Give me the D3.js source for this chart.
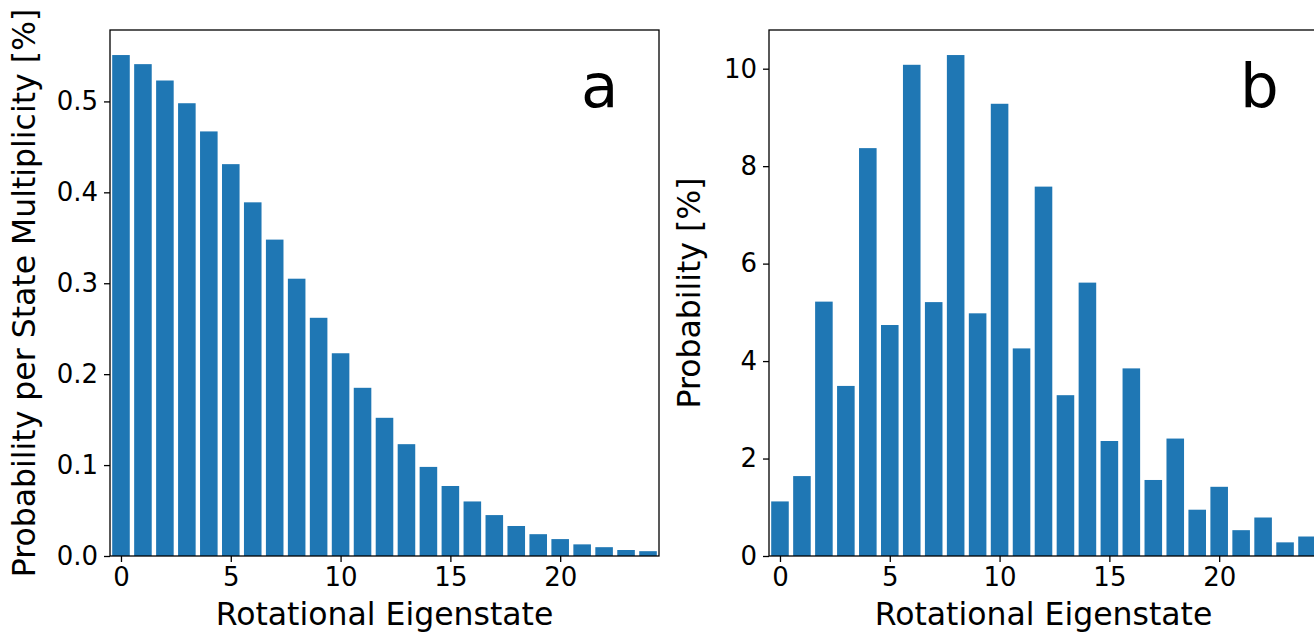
<!DOCTYPE html>
<html>
<head>
<meta charset="utf-8">
<script src="https://cdn.jsdelivr.net/npm/d3@7"></script>
<style>
  html, body { margin: 0; padding: 0; background: #fff; overflow: hidden; }
  svg { display: block; }
  text { font-family: "DejaVu Sans", sans-serif; fill: #000; }
</style>
</head>
<body>
<svg id="chart" width="1314" height="632"></svg>
<script>
// ---- data ----
const states = d3.range(0, 25); // rotational eigenstates 0..24
const probPerMultiplicity = [0.551, 0.541, 0.523, 0.498, 0.467, 0.431, 0.389, 0.348, 0.305, 0.262,
  0.223, 0.185, 0.152, 0.123, 0.098, 0.077, 0.060, 0.045, 0.033, 0.024,
  0.0186, 0.0128, 0.0097, 0.0066, 0.0053];
const probability = [1.12, 1.64, 5.22, 3.49, 8.37, 4.74, 10.08, 5.21, 10.28, 4.98,
  9.28, 4.26, 7.58, 3.30, 5.61, 2.36, 3.85, 1.56, 2.41, 0.95,
  1.42, 0.53, 0.79, 0.28, 0.40];
const xTicks = [0, 5, 10, 15, 20];
const yTicksA = [0.0, 0.1, 0.2, 0.3, 0.4, 0.5];
const yTicksB = [0, 2, 4, 6, 8, 10];

const svg = d3.select("#chart");
const barColor = "#1f77b4";
const plotTop = 30, plotBottom = 556;
const tickFont = 26, labelFont = 31.5, panelFont = 61;

function panel(opts) {
  const { left, width, values, yTicks, yFmt, ylabel, ylabelX, letter } = opts;
  const g = svg.append("g");
  const x = d3.scaleLinear().domain([-0.5, 24.5]).range([left, left + width]);
  const y = d3.scaleLinear().domain([0, d3.max(values) * 1.05]).range([plotBottom, plotTop]);
  const bw = x(0.8) - x(0);

  g.selectAll("rect.bar").data(states).join("rect")
    .attr("class", "bar")
    .attr("x", d => x(d - 0.4))
    .attr("width", bw)
    .attr("y", d => y(values[d]))
    .attr("height", d => plotBottom - y(values[d]))
    .attr("fill", barColor);

  // axes
  const xAxis = d3.axisBottom(x).tickValues(xTicks).tickSize(6).tickPadding(6).tickFormat(d3.format("d"));
  const yAxis = d3.axisLeft(y).tickValues(yTicks).tickSize(6).tickPadding(6).tickFormat(yFmt);
  const gx = g.append("g").attr("transform", `translate(0,${plotBottom})`).call(xAxis);
  const gy = g.append("g").attr("transform", `translate(${left},0)`).call(yAxis);
  [gx, gy].forEach(a => {
    a.select(".domain").remove();
    a.selectAll("line").attr("stroke", "#000").attr("stroke-width", 1.3);
    a.selectAll("text").attr("font-size", tickFont).attr("font-family", "DejaVu Sans").attr("fill", "#000");
  });

  // frame
  g.append("rect").attr("x", left).attr("y", plotTop)
    .attr("width", width).attr("height", plotBottom - plotTop)
    .attr("fill", "none").attr("stroke", "#000").attr("stroke-width", 1.3);

  // labels
  g.append("text").attr("x", left + width / 2).attr("y", 625)
    .attr("text-anchor", "middle").attr("font-size", labelFont)
    .text("Rotational Eigenstate");
  g.append("text")
    .attr("transform", `translate(${ylabelX},${(plotTop + plotBottom) / 2}) rotate(-90)`)
    .attr("text-anchor", "middle").attr("font-size", labelFont)
    .text(ylabel);
  g.append("text").attr("x", left + width * 0.858).attr("y", 107)
    .attr("font-size", panelFont).text(letter);
}

panel({ left: 110, width: 549, values: probPerMultiplicity, yTicks: yTicksA,
  yFmt: d3.format(".1f"), ylabel: "Probability per State Multiplicity [%]", ylabelX: 35, letter: "a" });
panel({ left: 769, width: 549, values: probability, yTicks: yTicksB,
  yFmt: d3.format("d"), ylabel: "Probability [%]", ylabelX: 700, letter: "b" });
</script>
</body>
</html>
